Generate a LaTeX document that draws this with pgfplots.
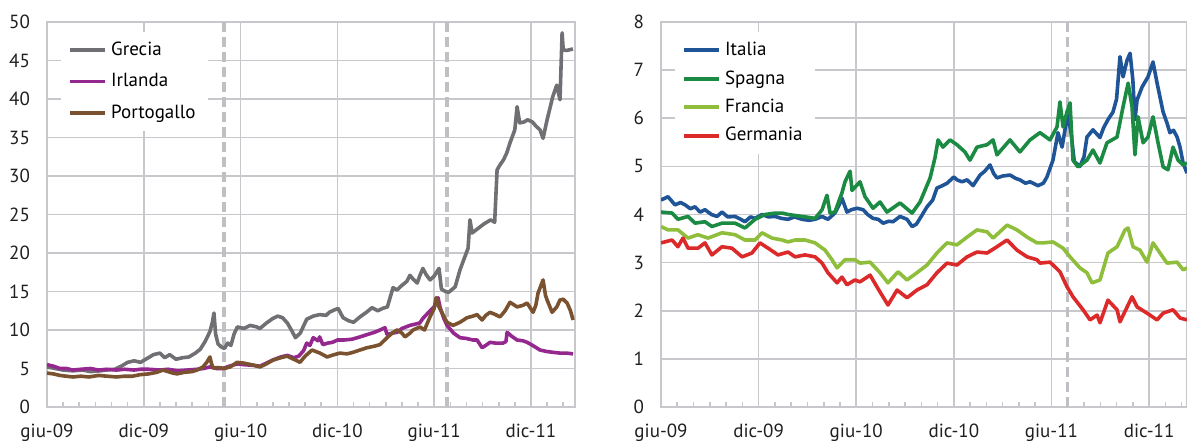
\documentclass[border=0pt]{standalone}
\usepackage{pgfplots}
\pgfplotsset{compat=1.18}
\usepackage{fontspec}
\setmainfont{PT Sans}
\definecolor{gridc}{RGB}{200,200,204}
\definecolor{dashc}{RGB}{192,192,196}
\definecolor{cgre}{RGB}{112,112,116}
\definecolor{cirl}{RGB}{148,40,142}
\definecolor{cpor}{RGB}{122,82,48}
\definecolor{cita}{RGB}{31,85,151}
\definecolor{cspa}{RGB}{27,138,67}
\definecolor{cfra}{RGB}{143,190,60}
\definecolor{cger}{RGB}{220,42,42}
\pgfplotsset{mystyle/.style={
  scale only axis, height=192.5pt,
  xmin=0, ymin=0,
  xtick={0,6,12,18,24,30},
  xticklabels={giu-09,dic-09,giu-10,dic-10,giu-11,dic-11},
  minor xtick={1,...,32},
  xtick pos=left, ytick pos=left,
  grid=major, major grid style={gridc, line width=0.8pt},
  axis line style={gridc, line width=1pt},
  major tick length=0pt, minor tick length=2.5pt,
  minor tick style={gridc, line width=0.8pt},
  ytick style={draw=none},
  tick label style={font=\fontsize{9.5}{11}\selectfont, text=black!88},
  /pgf/number format/assume math mode=true,
  xticklabel style={yshift=-5pt},
  yticklabel style={xshift=-5pt},
  every axis plot/.append style={line width=1.8pt, line join=round, no markers},
  legend cell align=left,
  legend style={draw=none, fill=white, font=\fontsize{9.5}{11}\selectfont,
    anchor=north west, inner xsep=4pt, inner ysep=3pt},
  legend image code/.code={\draw[##1] (0pt,0pt) -- (17.5pt,0pt);},
}}
\begin{document}
\begin{tikzpicture}
\useasboundingbox (0,0) rectangle (593.5pt,222pt);
\begin{axis}[mystyle, at={(23.5pt,18.5pt)}, anchor=south west,
  width=264pt, xmax=32.73, ymax=50, ytick={0,5,...,50},
  legend style={at={(axis description cs:0.025,0.975)}, row sep=3.5pt}]
\addplot[dashc, line width=1.6pt, dash pattern=on 5pt off 2.5pt, forget plot] coordinates {(10.97,0) (10.97,50)};
\addplot[dashc, line width=1.6pt, dash pattern=on 5pt off 2.5pt, forget plot] coordinates {(24.8,0) (24.8,50)};
\addplot[cgre] coordinates {
(0,5.2)(0.5,5.0)(1.0,4.8)(1.6,4.7)(2.2,4.8)(2.7,4.6)(3.3,4.7)(3.7,4.8)(4.2,4.9)(4.6,5.3)
(5.0,5.8)(5.4,6.0)(5.8,5.8)(6.2,6.3)(6.6,6.8)(7.0,7.0)(7.3,6.4)(7.6,6.8)(8.0,6.2)(8.4,6.4)
(8.8,6.5)(9.2,7.0)(9.5,7.5)(9.8,8.5)(10.1,9.8)(10.25,11.0)(10.35,12.2)(10.45,9.5)(10.6,8.2)(10.8,7.8)
(11.0,7.6)(11.2,8.3)(11.4,8.0)(11.6,9.5)(11.8,10.4)(12.2,10.2)(12.6,10.6)(13.0,10.4)(13.2,10.2)(13.6,10.9)
(14.0,11.5)(14.3,11.8)(14.6,11.6)(14.9,10.9)(15.2,9.8)(15.4,9.0)(15.7,9.6)(16.1,11.4)(16.5,11.8)(16.9,12.0)
(17.3,11.9)(17.5,12.3)(17.8,12.6)(18.05,12.8)(18.35,11.6)(18.7,11.2)(19.0,11.0)(19.4,11.7)(19.8,12.3)(20.15,12.9)
(20.5,12.5)(20.8,12.8)(21.1,13.0)(21.45,15.5)(21.7,15.2)(22.0,15.8)(22.3,16.3)(22.5,17.1)(22.7,16.6)(22.95,16.1)
(23.1,17.0)(23.3,18.0)(23.5,17.2)(23.75,16.5)(24.0,17.0)(24.3,18.0)(24.45,15.3)(24.7,15.0)(24.9,14.9)(25.3,15.6)
(25.6,17.8)(25.9,19.5)(26.1,20.6)(26.22,24.3)(26.35,22.6)(26.6,23.0)(26.85,23.4)(27.1,23.8)(27.5,24.3)(27.75,24.0)
(27.9,30.8)(28.1,31.5)(28.3,32.1)(28.5,33.0)(28.7,34.3)(29.0,36.0)(29.14,39.0)(29.3,36.9)(29.55,37.0)(29.8,37.3)
(30.1,37.0)(30.3,36.5)(30.56,36.0)(30.75,34.9)(31.0,37.3)(31.2,39.0)(31.35,40.3)(31.6,41.8)(31.8,39.9)(31.93,48.6)
(32.0,46.4)(32.2,46.3)(32.6,46.5)};
\addlegendentry{Grecia}
\addplot[cirl] coordinates {
(0,5.5)(0.4,5.3)(0.8,5.0)(1.2,5.0)(1.6,4.8)(2.1,4.9)(2.7,5.0)(3.2,4.8)(3.7,4.9)(4.3,4.8)
(4.8,4.9)(5.4,4.8)(5.8,4.9)(6.3,4.9)(7.0,4.8)(7.5,4.9)(8.1,4.7)(8.7,4.8)(9.3,4.9)(9.7,5.0)
(10.1,5.2)(10.5,5.0)(10.9,5.0)(11.3,5.3)(11.8,5.6)(12.2,5.5)(12.8,5.4)(13.2,5.3)(13.6,5.7)(14.0,6.1)
(14.5,6.5)(14.9,6.7)(15.3,6.4)(15.6,6.6)(15.9,7.3)(16.1,8.3)(16.3,8.0)(16.5,9.0)(16.8,8.6)(16.9,9.1)
(17.1,8.1)(17.4,8.3)(17.7,8.4)(18.0,8.7)(18.4,8.7)(18.9,8.8)(19.4,9.1)(19.84,9.4)(20.3,9.7)(20.64,10.0)
(20.95,10.3)(21.08,9.4)(21.4,9.6)(21.7,9.7)(22.0,10.2)(22.5,10.6)(23.1,10.9)(23.3,11.5)(23.7,12.4)(24.0,13.0)
(24.24,14.2)(24.36,13.0)(24.6,11.5)(24.8,10.6)(25.2,9.6)(25.6,9.0)(26.0,8.9)(26.4,8.7)(26.66,8.7)(26.97,7.7)
(27.2,8.0)(27.46,8.4)(27.8,8.3)(28.27,8.3)(28.45,8.5)(28.52,9.7)(28.8,9.2)(29.14,8.7)(29.5,8.6)(29.76,8.4)
(30.1,8.0)(30.56,7.4)(31.0,7.2)(31.37,7.1)(31.8,7.0)(32.2,7.0)(32.61,6.9)};
\addlegendentry{Irlanda}
\addplot[cpor] coordinates {
(0,4.4)(0.4,4.3)(0.8,4.1)(1.2,4.0)(1.61,3.9)(2.1,4.0)(2.6,3.9)(3.2,4.1)(3.72,4.0)(4.3,3.9)
(4.8,4.0)(5.3,4.0)(5.77,4.2)(6.3,4.3)(6.8,4.5)(7.19,4.8)(7.5,4.6)(7.81,4.4)(8.06,4.3)(8.5,4.5)
(9.0,4.6)(9.3,4.8)(9.67,5.2)(9.9,5.8)(10.1,6.5)(10.2,5.6)(10.29,5.1)(10.73,5.1)(11.0,5.0)(11.35,5.2)
(11.53,5.45)(11.78,5.8)(12.2,5.7)(12.77,5.45)(13.2,5.2)(13.6,5.6)(14.01,6.1)(14.5,6.4)(14.88,6.6)(15.3,6.2)
(15.68,5.8)(16.0,6.6)(16.43,7.4)(16.92,7.0)(17.36,6.5)(17.8,6.8)(18.16,7.0)(18.6,6.9)(18.97,7.1)(19.4,7.4)
(19.84,7.7)(20.3,7.9)(20.64,8.1)(21.08,9.0)(21.4,9.6)(21.7,10.0)(22.0,9.6)(22.19,9.1)(22.5,9.6)(22.69,10.0)
(23.12,10.4)(23.4,10.0)(23.74,11.7)(24.0,12.8)(24.12,14.2)(24.3,13.0)(24.49,12.2)(24.8,11.0)(25.17,10.6)(25.6,11.0)
(26.04,11.6)(26.4,11.8)(26.66,12.0)(26.97,11.3)(27.2,11.9)(27.46,12.3)(27.8,12.0)(28.08,11.7)(28.4,12.5)(28.7,13.6)
(29.14,13.0)(29.5,13.2)(29.76,13.5)(30.13,12.3)(30.3,13.2)(30.44,14.8)(30.75,16.5)(30.9,14.5)(31.0,13.9)(31.31,12.3)
(31.6,13.0)(31.8,13.9)(32.0,14.0)(32.24,13.5)(32.45,12.5)(32.61,11.3)};
\addlegendentry{Portogallo}
\end{axis}
\begin{axis}[mystyle, at={(330.5pt,18.5pt)}, anchor=south west,
  width=263pt, xmax=32.33, ymax=8, ytick={0,1,...,8},
  legend style={at={(axis description cs:0.025,0.975)}, row sep=2pt}]
\addplot[dashc, line width=1.6pt, dash pattern=on 5pt off 2.5pt, forget plot] coordinates {(25.0,0) (25.0,8)};
\addplot[cita] coordinates {
(0,4.3)(0.43,4.37)(0.86,4.2)(1.2,4.25)(1.48,4.2)(1.8,4.12)(2.09,4.16)(2.4,4.05)(2.7,4.1)(3.1,4.0)
(3.44,3.96)(3.75,4.05)(4.1,3.95)(4.55,3.96)(4.9,3.9)(5.16,3.85)(5.5,3.95)(5.78,3.92)(6.21,4.0)(6.6,3.95)
(7.01,3.96)(7.4,3.92)(7.81,3.9)(8.2,3.95)(8.67,3.9)(9.1,3.88)(9.47,3.9)(9.9,3.96)(10.26,3.9)(10.69,4.03)
(10.95,4.2)(11.12,4.34)(11.43,4.05)(11.7,4.1)(12.05,4.13)(12.42,4.1)(12.7,4.0)(13.03,3.92)(13.35,3.9)(13.65,3.82)
(14.0,3.86)(14.26,3.85)(14.69,3.96)(15.12,3.9)(15.43,3.75)(15.7,3.8)(15.92,3.92)(16.35,4.16)(16.7,4.3)(16.96,4.55)
(17.3,4.6)(17.58,4.65)(18.0,4.78)(18.19,4.72)(18.5,4.68)(18.81,4.72)(19.18,4.6)(19.61,4.82)(19.9,4.9)(20.22,5.03)
(20.45,4.85)(20.65,4.76)(21.0,4.8)(21.45,4.82)(21.8,4.75)(22.06,4.72)(22.4,4.65)(22.68,4.68)(23.17,4.6)(23.5,4.65)
(23.72,4.78)(24.09,5.13)(24.4,5.7)(24.65,5.4)(24.83,5.76)(25.01,6.07)(25.2,5.7)(25.4,5.1)(25.75,5.0)(26.0,5.2)
(26.18,5.61)(26.55,5.76)(26.98,5.6)(27.2,5.8)(27.47,5.97)(27.78,6.13)(28.0,6.4)(28.21,7.28)(28.4,6.86)(28.64,7.2)
(28.83,7.35)(29.0,6.8)(29.13,5.97)(29.26,6.38)(29.57,6.65)(29.93,6.86)(30.24,7.17)(30.49,6.73)(30.86,6.13)(31.1,5.9)
(31.28,5.7)(31.5,5.75)(31.72,5.61)(31.9,5.4)(32.09,5.07)(32.33,4.86)};
\addlegendentry{Italia}
\addplot[cspa] coordinates {
(0,4.05)(0.68,4.03)(1.04,3.9)(1.66,3.96)(2.09,3.82)(2.7,3.85)(3.13,3.75)(3.75,3.82)(4.55,3.82)(5.16,3.72)
(5.78,3.9)(6.39,4.0)(7.01,4.03)(7.44,4.03)(7.81,4.0)(8.67,3.96)(9.47,3.92)(9.9,4.1)(10.2,4.4)(10.39,4.03)
(10.69,4.05)(11.12,4.45)(11.31,4.68)(11.62,4.9)(11.74,4.5)(12.23,4.68)(12.54,4.37)(13.03,4.13)(13.46,4.26)(13.89,4.05)
(14.69,4.24)(15.43,4.03)(15.92,4.26)(16.54,4.76)(16.84,5.18)(17.03,5.55)(17.33,5.4)(17.76,5.55)(18.19,5.45)(18.68,5.3)
(18.99,5.13)(19.42,5.4)(20.04,5.45)(20.41,5.55)(20.65,5.24)(21.45,5.55)(22.06,5.3)(22.68,5.55)(23.29,5.7)(23.91,5.55)
(24.34,5.82)(24.52,6.34)(24.71,5.82)(24.95,6.13)(25.14,6.32)(25.32,5.13)(25.63,4.99)(26.18,5.13)(26.55,5.34)(26.98,5.07)
(27.41,5.49)(28.03,5.61)(28.4,6.24)(28.71,6.73)(28.95,6.24)(29.13,5.24)(29.32,6.03)(29.63,5.49)(29.93,5.61)(30.24,6.03)
(30.55,5.49)(30.86,4.99)(31.16,4.93)(31.47,5.4)(31.78,5.13)(32.09,5.03)(32.33,5.07)};
\addlegendentry{Spagna}
\addplot[cfra] coordinates {
(0,3.75)(0.43,3.68)(1.04,3.68)(1.66,3.51)(2.27,3.58)(2.89,3.51)(3.75,3.62)(4.55,3.58)(5.16,3.47)(5.78,3.47)
(6.21,3.62)(6.82,3.51)(7.44,3.47)(7.81,3.43)(8.24,3.47)(8.85,3.47)(9.47,3.41)(10.08,3.26)(10.51,3.06)(10.82,2.89)
(11.31,3.06)(11.92,3.06)(12.23,2.99)(12.85,3.01)(13.46,2.79)(13.95,2.58)(14.57,2.81)(15.12,2.64)(15.73,2.79)(16.35,2.95)
(16.96,3.2)(17.58,3.41)(18.19,3.37)(18.81,3.53)(19.42,3.68)(20.04,3.64)(20.41,3.51)(21.27,3.78)(21.88,3.68)(22.5,3.53)
(23.11,3.41)(23.48,3.41)(24.09,3.43)(24.71,3.3)(25.14,3.12)(25.75,2.89)(26.18,2.79)(26.49,2.58)(26.98,2.64)(27.47,3.2)
(28.03,3.33)(28.52,3.68)(28.71,3.72)(29.01,3.33)(29.44,3.26)(29.87,3.01)(30.24,3.41)(30.67,3.2)(31.1,2.99)(31.72,3.01)
(32.09,2.85)(32.33,2.89)};
\addlegendentry{Francia}
\addplot[cger] coordinates {
(0,3.41)(0.68,3.47)(1.04,3.33)(1.35,3.51)(1.66,3.3)(2.27,3.3)(2.7,3.41)(3.13,3.16)(3.75,3.33)(4.36,3.3)
(4.98,3.12)(5.59,3.2)(6.08,3.41)(6.58,3.3)(7.19,3.16)(7.81,3.22)(8.24,3.12)(8.85,3.16)(9.47,3.12)(9.9,2.99)
(10.26,2.79)(10.82,2.58)(11.12,2.7)(11.43,2.54)(11.92,2.64)(12.23,2.6)(12.85,2.74)(13.46,2.39)(13.95,2.12)(14.51,2.43)
(15.12,2.27)(15.73,2.43)(16.35,2.54)(16.96,2.79)(17.58,2.99)(18.19,2.95)(18.81,3.12)(19.42,3.22)(20.04,3.2)(20.65,3.33)
(21.27,3.47)(21.88,3.26)(22.5,3.12)(23.11,3.06)(23.29,2.99)(23.91,3.01)(24.52,2.81)(24.95,2.5)(25.32,2.29)(25.94,2.02)
(26.37,1.81)(26.8,1.91)(26.98,1.75)(27.47,2.22)(28.03,2.02)(28.21,1.77)(28.95,2.29)(29.26,2.08)(29.87,1.95)(30.49,1.81)
(30.86,1.95)(31.47,2.02)(31.9,1.85)(32.33,1.81)};
\addlegendentry{Germania}
\end{axis}
\end{tikzpicture}
\end{document}
